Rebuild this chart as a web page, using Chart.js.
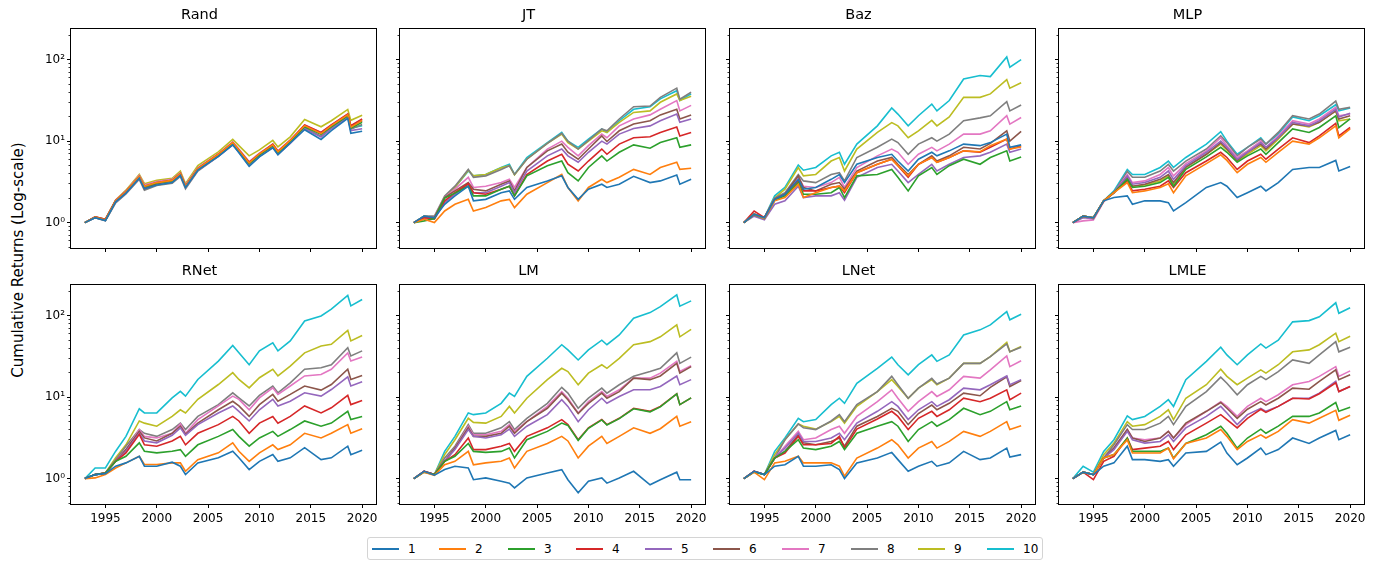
<!DOCTYPE html>
<html>
<head>
<meta charset="utf-8">
<script src="https://cdn.jsdelivr.net/npm/chart.js@4.4.0/dist/chart.umd.min.js"></script>
<style>
  body { margin: 0; background: #fff; width: 1381px; height: 561px; position: relative; overflow: hidden; font-family: "DejaVu Sans", sans-serif; color: #000; }
  canvas { position: absolute; }
  #ylabel { position: absolute; left: 17.5px; top: 260px; transform: translate(-50%, -50%) rotate(-90deg); font-size: 15px; white-space: nowrap; }
  #legend { position: absolute; left: 367px; top: 537px; width: 676px; height: 23px; border: 1px solid #d4d4d4; border-radius: 3px; box-sizing: border-box; }
  .swatch { position: absolute; top: 10px; width: 27px; height: 0; border-top: 2px solid; }
  .lab { position: absolute; top: 3px; font-size: 12px; line-height: 16px; }
</style>
</head>
<body>
<div id="ylabel">Cumulative Returns (Log-scale)</div>
<div id="legend"></div>
<script>
// x positions shared by every series (decimal years)
const YEARS = [1993, 1994, 1995, 1996, 1997, 1998.3, 1998.8, 2000, 2001.5, 2002.3, 2002.8, 2004, 2006,
               2007.4, 2008, 2009, 2010, 2011.3, 2011.8, 2013, 2014.4, 2016, 2017, 2018.6, 2018.9, 2020];

const DECILES = ["1", "2", "3", "4", "5", "6", "7", "8", "9", "10"];
const COLORS = ["#1f77b4", "#ff7f0e", "#2ca02c", "#d62728", "#9467bd",
                "#8c564b", "#e377c2", "#7f7f7f", "#bcbd22", "#17becf"];
const PANEL_TITLES = ["Rand", "JT", "Baz", "MLP", "RNet", "LM", "LNet", "LMLE"];

const X_TICKS = [1995, 2000, 2005, 2010, 2015, 2020];
const Y_MAJOR = [1, 10, 100];
const Y_MAJOR_LABELS = ["10\u2070", "10\u00b9", "10\u00b2"];
const Y_MINOR = [0.5, 0.6, 0.7, 0.8, 0.9, 2, 3, 4, 5, 6, 7, 8, 9, 20, 30, 40, 50, 60, 70, 80, 90, 200];

// cumulative returns, one row per decile 1..10
const RAND = [
  [1,1.15,1.06,1.8,2.3,3.5,2.6,2.9,3.1,3.8,2.7,4.4,6.5,9.0,7.2,4.9,6.4,8.3,6.8,9.5,13.8,10.5,13.5,19,12.5,13.2],
  [1,1.17,1.08,1.85,2.4,3.7,2.8,3.1,3.3,4.0,2.8,4.6,6.9,9.6,7.8,5.4,7.0,9.0,7.4,10.2,15.5,12.4,15.5,21,14.8,18],
  [1,1.16,1.07,1.83,2.35,3.6,2.75,3.05,3.25,3.9,2.75,4.5,6.7,9.3,7.6,5.3,6.8,8.8,7.2,9.8,15,12.2,15,20.5,14.5,17],
  [1,1.18,1.1,1.87,2.4,3.6,2.6,3.0,3.3,4.0,2.8,4.6,6.9,9.6,7.8,5.5,7.0,9.2,7.5,10.2,15.8,12.8,15.8,21.5,15.5,18.8],
  [1,1.15,1.06,1.8,2.3,3.5,2.7,3.0,3.2,3.8,2.7,4.4,6.5,9.0,7.3,5.0,6.5,8.4,6.9,9.4,14.2,11.2,14.2,19.5,13.5,14.2],
  [1,1.17,1.08,1.85,2.4,3.7,2.8,3.1,3.3,4.0,2.8,4.6,6.8,9.4,7.7,5.4,6.9,8.9,7.3,10,15.3,12.3,15.3,21,15,17.8],
  [1,1.18,1.09,1.88,2.45,3.8,2.9,3.2,3.4,4.1,2.9,4.7,7.0,9.8,8.0,5.6,7.1,9.2,7.6,10.4,15.8,12.8,15.8,21.5,15.5,18.5],
  [1,1.15,1.05,1.75,2.25,3.4,2.5,2.85,3.05,3.7,2.6,4.3,6.5,9.2,7.4,5.2,6.6,8.6,7.0,9.6,14.6,11.5,14.5,20,14,16],
  [1,1.18,1.1,1.9,2.5,3.9,3.0,3.3,3.5,4.3,3.0,5.0,7.4,10.5,8.8,6.6,7.8,10.2,8.5,11.3,18.4,15,17.8,24.5,18,20.8],
  [1,1.17,1.08,1.87,2.45,3.8,2.9,3.15,3.35,4.1,2.85,4.7,6.9,9.6,7.8,5.5,7.0,9.0,7.4,10,15.2,12.2,15,20.5,14.5,15.5]
];

const JT = [
  [1,1.2,1.15,1.68,2.13,2.8,1.85,1.93,2.33,2.45,1.93,2.7,3.25,3.75,2.7,1.93,2.57,2.96,2.7,2.96,3.7,3.1,3.25,3.85,2.96,3.4],
  [1,1.1,1.0,1.39,1.68,1.93,1.39,1.53,1.85,1.93,1.53,2.23,3.1,3.9,2.7,1.85,2.7,3.4,3.1,3.6,4.5,3.9,4.75,5.5,4.5,4.65],
  [1,1.05,1.12,2.0,2.3,2.8,2.13,2.13,2.57,2.8,2.13,3.75,5.0,5.7,4.1,3.25,4.75,6.6,5.7,7.3,9.0,8.2,9.6,11,8.4,9.0],
  [1,1.15,1.12,1.85,2.33,3.0,2.33,2.23,2.57,2.8,2.13,3.9,5.7,6.9,5.2,4.3,5.7,8.0,6.9,9.2,11.0,11.3,12.8,14.9,11.6,12.8],
  [1,1.15,1.1,1.76,2.23,2.96,2.33,2.33,2.8,3.1,2.33,4.3,6.6,8.0,6.6,5.5,7.3,10.0,9.2,12.2,14.3,15.4,17.8,21.5,17,18.7],
  [1,1.18,1.15,2.03,2.45,3.1,2.57,2.45,2.96,3.25,2.45,4.75,7.6,9.2,7.3,6.0,8.0,11.6,9.9,13.4,16.2,17.8,21,24.6,18.7,21],
  [1,1.18,1.15,2.03,2.57,3.6,2.7,2.8,3.1,3.4,2.7,4.75,8.0,10,8.4,6.6,8.8,12.2,11.0,15.4,18.7,21,24.6,31.5,23.5,27.5],
  [1,1.2,1.2,2.13,2.8,4.5,3.6,3.75,4.5,5.0,3.9,6.0,9.4,12.5,10,8.0,10.2,14.1,13.4,18.7,26.5,27,34.5,44.7,32.7,39.8],
  [1,1.2,1.15,2.03,2.7,4.4,3.75,3.9,4.7,5.0,3.85,6.0,9.4,12.2,9.6,8.0,10.0,13.4,12.8,17,22.5,23.5,30,38,31.5,35.5],
  [1,1.2,1.15,2.03,2.7,4.3,3.75,3.9,4.75,5.2,3.9,6.3,9.6,12.8,10,8.4,10.6,14.1,12.8,17.8,24.6,26.5,33,41.6,31.5,38]
];

const BAZ = [
  [1,1.27,1.15,1.93,2.23,3.4,2.57,2.7,3.4,3.9,3.1,5.2,6.3,6.9,5.7,4.3,6.0,7.3,6.6,7.6,9.2,8.8,9.6,12.2,8.4,9.0],
  [1,1.27,1.12,1.85,2.03,2.96,2.03,2.33,2.7,2.8,2.45,4.1,5.2,6.0,5.0,3.75,5.2,6.3,5.5,6.3,7.6,7.4,8.8,10.6,8.0,8.5],
  [1,1.25,1.12,1.88,2.13,3.1,2.23,2.23,2.33,2.7,2.03,3.75,3.9,4.5,3.6,2.45,3.75,4.75,3.9,5.0,6.0,5.2,6.3,7.6,5.7,6.4],
  [1,1.39,1.15,1.93,2.23,3.25,2.45,2.45,2.7,2.8,2.33,4.1,5.2,6.0,5.0,3.6,5.2,6.3,5.5,6.3,7.6,7.3,8.4,10.6,8.0,8.8],
  [1,1.2,1.08,1.68,1.85,2.8,2.03,2.13,2.13,2.33,1.88,3.6,4.75,5.2,4.3,3.1,3.9,5.2,4.3,5.2,6.3,6.6,7.3,9.2,7.3,8.0],
  [1,1.27,1.15,1.93,2.23,3.75,2.7,2.45,2.96,3.1,2.57,4.3,5.7,6.3,5.2,3.9,5.2,6.6,5.7,6.6,8.4,8.0,9.4,13.4,10,13.2],
  [1,1.27,1.15,1.93,2.23,3.6,2.8,2.7,3.1,3.6,2.7,4.75,6.6,8.0,7.3,5.2,6.9,8.4,7.6,9.2,12.2,12.2,13.4,20.5,16.2,19.5],
  [1,1.27,1.15,2.0,2.33,3.9,3.25,3.1,3.9,4.1,3.25,6.3,8.4,10.6,9.6,6.9,9.2,11.0,10,12.2,17.8,19.3,20.5,30.6,23.5,27.8],
  [1,1.27,1.15,2.0,2.57,4.75,3.75,3.9,5.7,6.3,4.3,8.0,12.8,16.9,15.4,11.0,13.4,18.0,15.4,19.8,34.5,34.5,38,57,44.7,52],
  [1,1.27,1.15,2.13,2.7,5.1,4.4,4.75,6.6,7.3,5.2,9.2,15.4,25.5,21.5,15.4,20.5,28.5,23.5,31.5,58,64,62,108,81,100]
];

const MLP = [
  [1,1.2,1.15,1.85,2.03,2.13,1.68,1.85,1.85,1.76,1.39,1.76,2.7,3.1,2.8,2.03,2.33,2.8,2.45,3.1,4.5,4.75,4.75,5.8,4.3,4.9],
  [1,1.2,1.15,1.85,2.33,3.1,2.33,2.45,2.7,3.0,2.33,3.75,5.3,6.8,5.8,4.1,5.2,6.3,5.5,7.3,10.0,9.2,11.0,15.4,11.0,14.1],
  [1,1.2,1.15,1.85,2.33,3.4,2.7,2.8,3.1,3.6,2.8,4.5,6.4,8.4,7.3,5.5,6.6,8.0,6.9,9.6,14.1,12.8,14.7,20.5,14.7,18.8],
  [1,1.2,1.15,1.85,2.33,3.25,2.45,2.57,2.8,3.25,2.7,4.1,5.7,7.3,6.3,4.5,5.7,6.9,6.0,8.0,11.0,9.6,11.6,16.5,11.6,14.7],
  [1,1.15,1.12,1.85,2.33,3.75,2.96,3.1,3.6,4.3,3.4,5.0,7.3,10,8.4,6.0,7.3,9.6,8.4,11.0,17,15.4,17.8,24.6,19.8,22],
  [1,1.18,1.12,1.85,2.33,3.65,2.8,2.96,3.4,3.9,3.1,4.8,6.9,9.6,8.0,5.8,7.3,9.2,8.0,11.0,16.2,15.4,17,23.5,18.7,20.5],
  [1,1.05,1.08,1.8,2.33,3.9,3.1,3.25,3.9,4.75,3.75,5.3,7.6,11.0,8.8,6.3,7.6,10.0,8.4,11.6,17.8,16.2,18.7,26,20.5,21.5],
  [1,1.2,1.15,1.85,2.33,4.25,3.6,3.6,4.3,5.2,4.3,5.7,8.0,11.6,9.6,6.6,8.4,10.6,9.2,12.8,20.5,18.7,21.5,31,24.6,26],
  [1,1.2,1.15,1.85,2.33,3.6,2.8,2.9,3.25,3.75,2.96,4.75,6.9,9.2,7.8,5.7,6.9,8.8,7.6,10.6,16.2,15.0,17,23.5,17.8,18.7],
  [1,1.18,1.12,1.85,2.45,4.5,3.9,3.9,4.75,5.7,4.75,6.3,9.2,13.1,10,6.9,8.4,11.0,9.2,12.2,19.8,17.8,20.5,28,23.5,25.5]
];

const RNET = [
  [1,1.12,1.15,1.42,1.56,1.88,1.42,1.42,1.59,1.42,1.12,1.56,1.8,2.17,1.8,1.29,1.63,1.97,1.63,1.8,2.4,1.71,1.8,2.5,1.97,2.23],
  [1,1.02,1.12,1.35,1.56,1.88,1.49,1.49,1.56,1.56,1.23,1.71,2.07,2.75,2.17,1.63,2.07,2.6,2.27,2.6,3.6,3.16,3.6,4.6,3.6,4.1],
  [1,1.12,1.17,1.63,1.88,2.75,2.17,2.07,2.17,2.27,1.88,2.6,3.3,4.0,3.3,2.5,3.16,3.8,3.3,4.0,5.1,4.4,4.8,6.7,5.3,5.8],
  [1,1.12,1.17,1.63,2.07,3.5,2.6,2.5,2.9,3.3,2.6,3.6,4.6,5.8,5.1,3.6,4.8,5.8,4.8,5.8,7.8,6.4,7.4,10.5,8.1,9.1],
  [1,1.12,1.17,1.63,2.17,3.6,2.9,2.75,3.4,4.2,3.4,4.6,6.4,7.8,6.7,5.1,7.0,9.4,7.8,8.9,11.3,10.3,12.4,17.8,13.7,15.4],
  [1,1.12,1.17,1.63,2.27,3.8,3.16,2.9,3.6,4.4,3.5,4.8,7.0,8.9,7.8,5.8,8.1,10.8,8.9,10.8,13.7,12.2,14.3,22,16.5,18.5],
  [1,1.12,1.17,1.63,2.27,4.0,3.3,3.16,3.6,4.7,3.6,5.3,7.8,10.3,9.4,7.0,9.8,13,10.8,13.7,18.2,19,22,35,27.7,31],
  [1,1.12,1.17,1.71,2.5,4.0,3.6,3.3,4.0,4.8,4.0,5.8,8.1,11.3,9.8,7.8,10.5,13.7,11.3,15,22,23,25,40.5,32,37],
  [1,1.12,1.17,1.8,2.6,5.1,4.8,4.4,5.8,7.0,6.4,9.4,14.3,20,16.5,13,17.3,22,18.2,24,35,42.5,44.5,66,49,57],
  [1,1.35,1.35,2.17,3.3,7.2,6.4,6.4,9.8,11.8,10.3,16.5,27.7,43,35,25,37,46.5,37,49,86,99,120,177,132,158]
];

const LM = [
  [1,1.23,1.1,1.29,1.42,1.35,0.97,1.02,0.93,0.88,0.77,1.02,1.17,1.29,0.97,0.67,0.93,1.02,0.88,1.02,1.23,0.84,0.97,1.2,0.97,0.97],
  [1,1.2,1.1,1.48,1.63,2.16,1.48,1.56,1.63,1.79,1.35,2.16,2.7,3.3,2.9,1.79,2.5,3.3,2.7,3.3,4.2,3.6,4.1,5.8,4.4,5.0],
  [1,1.2,1.12,1.63,1.88,2.7,2.16,2.1,2.16,2.37,1.79,3.0,3.8,4.8,4.5,2.95,4.15,5.25,4.55,5.45,7.2,6.6,7.6,11,8.1,9.8],
  [1,1.23,1.12,1.63,1.97,3.15,2.27,2.27,2.5,2.7,2.16,3.3,4.2,5.3,4.6,3.0,4.2,5.3,4.6,5.5,7.3,6.7,7.7,11,8.1,9.8],
  [1,1.23,1.12,1.63,2.27,4.0,3.3,3.15,3.45,4.05,3.3,4.4,6.1,9.3,7.7,5.0,7.0,9.7,8.4,10.2,12.3,12.3,13.5,18.2,14.2,16.4],
  [1,1.23,1.12,1.63,2.37,4.2,3.3,3.3,3.6,4.4,3.6,5.0,7.3,11.2,9.3,6.3,8.4,11.2,9.7,11.7,17.1,16.4,18.2,26,19.7,23.7],
  [1,1.23,1.12,1.63,2.37,4.4,3.45,3.45,3.8,4.6,3.8,5.0,7.7,11.7,9.7,6.4,8.8,11.7,10.2,12.3,17.1,17.1,19.7,27.5,20.6,24.3],
  [1,1.23,1.12,1.79,2.5,4.6,3.6,3.6,4.2,5.0,4.0,5.5,8.4,13.2,11.2,7.3,9.7,12.9,11.2,14.2,18,20.6,22.6,35,26,31],
  [1,1.23,1.12,1.97,3.0,5.5,4.9,4.8,5.8,7.7,6.4,9.7,16.4,22.6,20.6,14.2,19.7,25,22.6,30,44,48,55,77,55,68],
  [1,1.23,1.12,2.16,3.3,6.4,6.1,6.4,8.4,11.2,10.2,18,30,44,38,28.6,38,50,44,58,93,109,129,180,131,152]
];

const LNET = [
  [1,1.23,1.12,1.42,1.48,1.88,1.42,1.42,1.48,1.29,1.0,1.56,1.79,2.1,1.71,1.23,1.42,1.63,1.42,1.56,2.16,1.71,1.79,2.37,1.84,1.97],
  [1,1.2,0.97,1.56,1.63,1.88,1.56,1.56,1.56,1.42,1.07,1.79,2.37,3.0,2.6,1.79,2.37,2.86,2.37,2.86,3.8,3.3,3.8,5.0,4.0,4.45],
  [1,1.2,1.12,1.79,2.16,3.0,2.37,2.27,2.5,2.86,2.27,3.6,4.4,5.0,4.4,2.86,4.0,5.0,4.4,5.3,7.3,6.1,6.7,8.8,7.0,7.8],
  [1,1.23,1.12,1.79,2.06,3.3,2.6,2.6,2.7,3.3,2.37,4.05,5.4,6.7,5.8,4.0,5.5,6.7,5.8,7.0,9.7,8.8,9.7,12.3,9.3,11.2],
  [1,1.23,1.12,1.79,2.37,3.6,2.86,2.86,3.15,3.6,3.0,4.8,6.7,8.8,7.7,5.3,7.0,8.8,7.7,9.3,12.9,12.3,14.2,18.2,14.2,16.4],
  [1,1.23,1.12,1.79,2.16,3.45,2.75,2.6,2.86,3.15,2.5,4.4,5.8,7.3,6.7,4.6,6.3,8.0,7.0,8.4,11.2,10.4,13.2,17.8,13.5,16],
  [1,1.23,1.12,1.79,2.5,3.8,3.0,3.15,4.0,4.4,3.6,5.8,8.8,12.3,9.7,6.7,8.8,11.7,10.2,12.3,18,17.1,21.6,32,23.7,28],
  [1,1.23,1.12,1.79,3.0,4.7,4.2,4.0,5.1,6.1,5.0,8.1,11.7,18,14.2,9.7,12.9,17,14.5,17.1,26,26,31.5,45,36,41],
  [1,1.23,1.12,1.97,3.0,4.7,4.4,4.05,5.0,5.8,4.8,7.7,11.7,16.4,13.5,9.7,12.9,16.4,14.2,17.1,26,26,31.5,47,36,42],
  [1,1.23,1.12,2.16,3.15,5.5,5.0,5.3,8.1,9.7,8.4,14.8,22.6,31,25,18.8,25,33,27.5,33,58,67,77,112,89,104]
];

const LMLE = [
  [1,1.2,1.12,1.42,1.56,2.5,1.71,1.71,1.63,1.71,1.42,2.06,2.16,2.8,2.06,1.48,1.79,2.37,1.97,2.27,3.15,2.7,3.15,3.9,3.0,3.45],
  [1,1.2,1.12,1.79,1.97,2.99,2.06,2.06,2.06,2.37,1.75,2.7,3.15,4.0,3.3,2.27,2.86,3.45,3.15,3.8,5.3,4.8,5.5,6.9,5.2,6.0],
  [1,1.2,1.12,1.79,1.97,3.15,2.16,2.16,2.16,2.37,1.79,2.7,3.45,4.4,3.6,2.37,3.15,4.05,3.6,4.4,5.8,5.8,6.4,8.6,6.7,7.5],
  [1,1.2,0.97,1.63,1.88,3.15,2.27,2.37,2.5,2.86,2.27,3.45,4.8,6.1,5.3,4.2,5.5,7.1,6.5,7.7,9.7,9.5,11,15,11.7,13.5],
  [1,1.2,1.12,1.79,2.27,3.8,2.99,2.73,2.86,3.45,2.86,4.2,5.8,7.7,6.4,4.6,6.1,7.3,6.7,7.7,9.7,9.7,11.2,15.6,11.7,13.5],
  [1,1.2,1.12,1.79,2.37,4.0,3.15,2.86,3.15,3.8,3.15,4.8,6.7,8.6,7.3,5.5,7.1,8.8,8.0,9.7,12.9,12.5,15.6,21.6,16.4,18.8],
  [1,1.2,1.12,1.79,2.37,4.0,3.15,2.99,3.15,3.8,3.15,4.6,6.7,8.8,7.7,5.8,7.7,9.7,8.8,10.7,14.2,15.6,18,23.7,18,21],
  [1,1.2,1.12,1.79,2.6,4.6,4.0,4.0,4.8,5.8,4.6,7.7,11.7,17.6,14.8,10.7,14.2,18,16.4,20.6,28.6,26,33,48,36,41],
  [1,1.2,1.12,1.97,2.73,5.0,4.4,4.6,5.8,7.0,5.3,9.7,14.2,22,18,14.2,17.1,21.6,19.7,25,36,38,44,61,48,56],
  [1,1.42,1.2,2.16,3.0,5.9,5.3,5.8,7.7,9.3,7.7,16.4,27.5,41,33,25,33,45,40,50,84,87,97,144,107,125]
];

const PANEL_DATA = [RAND, JT, BAZ, MLP, RNET, LM, LNET, LMLE];

// layout of the 2 x 4 grid (axes boxes, in page pixels)
const BOX_LEFT = [71, 400, 730, 1059];
const BOX_TOP = [29, 285];
const BOX_W = 305, BOX_H = 219;
const Y_AXIS_W = 48, TITLE_H = 26, X_AXIS_H = 26, PAD_R = 6;

const FONT = "DejaVu Sans";

// axes frame on all four sides, like matplotlib spines
const framePlugin = {
    id: "frame",
    afterDatasetsDraw(chart) {
        const { ctx, chartArea: a } = chart;
        ctx.save();
        ctx.strokeStyle = "#000";
        ctx.lineWidth = 1;
        ctx.strokeRect(a.left - 0.5, a.top - 0.5, a.right - a.left + 1, a.bottom - a.top + 1);
        ctx.restore();
    }
};

function makePanel(p) {
    const row = Math.floor(p / 4);
    const col = p % 4;

    const canvas = document.createElement("canvas");
    canvas.width = Y_AXIS_W + BOX_W + PAD_R;
    canvas.height = TITLE_H + BOX_H + X_AXIS_H;
    canvas.style.left = (BOX_LEFT[col] - Y_AXIS_W) + "px";
    canvas.style.top = (BOX_TOP[row] - TITLE_H) + "px";
    document.body.appendChild(canvas);

    const datasets = PANEL_DATA[p].map((series, i) => ({
        label: DECILES[i],
        data: YEARS.map((x, j) => ({ x: x, y: series[j] })),
        borderColor: COLORS[i],
        borderWidth: 1.6,
        pointRadius: 0,
        tension: 0,
        fill: false
    }));

    new Chart(canvas, {
        type: "line",
        data: { datasets: datasets },
        options: {
            responsive: false,
            animation: false,
            devicePixelRatio: 1,
            layout: { padding: { left: 0, right: PAD_R, top: 0, bottom: 0 } },
            plugins: {
                legend: { display: false },
                tooltip: { enabled: false },
                title: {
                    display: true,
                    text: PANEL_TITLES[p],
                    color: "#000",
                    font: { family: FONT, size: 14.5, weight: "normal", lineHeight: "16px" },
                    padding: { top: 4, bottom: 6 }
                }
            },
            scales: {
                x: {
                    type: "linear",
                    min: 1991.65,
                    max: 2021.35,
                    afterBuildTicks: s => { s.ticks = X_TICKS.map(v => ({ value: v })); },
                    afterFit: s => { s.height = X_AXIS_H; },
                    border: { display: false },
                    grid: { drawOnChartArea: false, tickLength: 4, tickColor: "#000", tickWidth: 1 },
                    ticks: {
                        display: row === 1,
                        autoSkip: false,
                        maxRotation: 0,
                        padding: 4,
                        color: "#000",
                        font: { family: FONT, size: 12 },
                        callback: v => String(v)
                    }
                },
                y: {
                    type: "logarithmic",
                    position: "left",
                    weight: 1,
                    min: 0.488,
                    max: 238,
                    afterBuildTicks: s => { s.ticks = Y_MAJOR.map(v => ({ value: v })); },
                    afterFit: s => { s.width = Y_AXIS_W; },
                    border: { display: false },
                    grid: { drawOnChartArea: false, tickLength: 4, tickColor: "#000", tickWidth: 1 },
                    ticks: {
                        display: col === 0,
                        autoSkip: false,
                        padding: 2,
                        color: "#000",
                        font: { family: FONT, size: 12 },
                        callback: v => {
                            const k = Y_MAJOR.indexOf(v);
                            return k >= 0 ? Y_MAJOR_LABELS[k] : "";
                        }
                    }
                },
                yMinor: {
                    type: "logarithmic",
                    position: "left",
                    weight: 0,
                    min: 0.488,
                    max: 238,
                    afterBuildTicks: s => { s.ticks = Y_MINOR.map(v => ({ value: v })); },
                    afterFit: s => { s.width = 0; },
                    border: { display: false },
                    grid: { drawOnChartArea: false, tickLength: 2.5, tickColor: "#000", tickWidth: 0.8 },
                    ticks: { display: false, autoSkip: false }
                }
            }
        },
        plugins: [framePlugin]
    });
}

PANEL_TITLES.forEach((t, p) => makePanel(p));

// legend below the grid
const LEGEND_X = [4, 71, 140, 208, 277, 345, 414, 483, 550, 619];
const legend = document.getElementById("legend");
DECILES.forEach((d, i) => {
    const sw = document.createElement("div");
    sw.className = "swatch";
    sw.style.left = LEGEND_X[i] + "px";
    sw.style.borderColor = COLORS[i];
    legend.appendChild(sw);

    const lab = document.createElement("div");
    lab.className = "lab";
    lab.style.left = (LEGEND_X[i] + 36) + "px";
    lab.textContent = d;
    legend.appendChild(lab);
});
</script>
</body>
</html>
